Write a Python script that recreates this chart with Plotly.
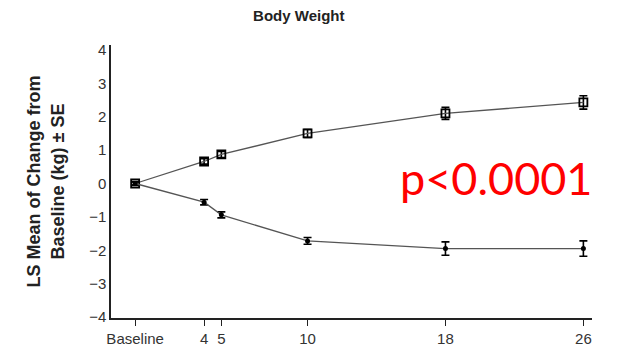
import plotly.graph_objects as go

weeks = [0, 4, 5, 10, 18, 26]
tick_labels = ["Baseline", "4", "5", "10", "18", "26"]
upper_mean = [0.0, 0.66, 0.87, 1.50, 2.10, 2.43]
upper_se = [0.05, 0.08, 0.09, 0.12, 0.18, 0.20]
lower_mean = [0.0, -0.56, -0.94, -1.72, -1.95, -1.95]
lower_se = [0.05, 0.08, 0.09, 0.10, 0.20, 0.23]
y_ticks = [4, 3, 2, 1, 0, -1, -2, -3, -4]
y_tick_labels = ["4", "3", "2", "1", "0", "−1", "−2", "−3", "−4"]

fig = go.Figure()
fig.add_trace(go.Scatter(
    x=weeks, y=upper_mean, mode="lines+markers",
    line=dict(color="#555555", width=1.3),
    marker=dict(symbol="square-open", size=8, color="black", line=dict(width=1.8)),
    error_y=dict(type="data", array=upper_se, color="black", thickness=1.6, width=4),
    showlegend=False))
fig.add_trace(go.Scatter(
    x=weeks, y=lower_mean, mode="lines+markers",
    line=dict(color="#555555", width=1.3),
    marker=dict(symbol="circle", size=5, color="black"),
    error_y=dict(type="data", array=lower_se, color="black", thickness=1.6, width=4),
    showlegend=False))

fig.update_layout(
    width=624, height=351,
    paper_bgcolor="white", plot_bgcolor="white",
    margin=dict(l=103, r=40, t=37, b=41),
    font=dict(family="Liberation Sans, Arial", color="#333333", size=12),
    title=dict(text="<b>Body Weight</b>", x=0.466, xanchor="center", y=0.978, yanchor="middle",
               font=dict(size=15, color="#222222")),
    xaxis=dict(range=[-1.4, 26.5], tickvals=weeks, ticktext=tick_labels,
               showgrid=False, zeroline=False, showline=True, linecolor="#222222", linewidth=1.5,
               ticks="outside", ticklen=6, tickcolor="#222222",
               tickfont=dict(size=15, color="#333333")),
    yaxis=dict(range=[-4.03, 4.15], tickvals=y_ticks, ticktext=y_tick_labels,
               showgrid=False, zeroline=False, showline=True, linecolor="#222222", linewidth=1.5,
               ticks="", tickfont=dict(size=15, color="#333333"),
               title=dict(text="<b>LS Mean of Change from<br>Baseline (kg) ± SE</b>",
                          font=dict(size=18, color="#222222"), standoff=20)),
)
fig.add_annotation(text="p<0.0001", xref="paper", yref="paper", x=1.004, y=0.513,
                   xanchor="right", yanchor="middle", showarrow=False,
                   font=dict(family="Lato", size=45, color="#ff0000"))

fig.write_html("out.html")
